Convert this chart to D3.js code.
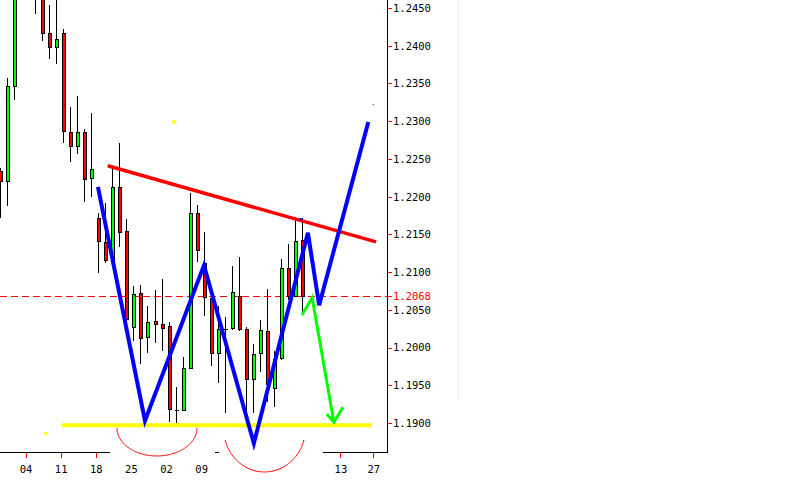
<!DOCTYPE html>
<html><head><meta charset="utf-8">
<script src="https://cdn.jsdelivr.net/npm/d3@7"></script>
<style>
html,body{margin:0;padding:0;background:#fff;}
svg{display:block;}
text{font-family:"DejaVu Sans Mono",monospace;font-size:10.5px;}
</style></head>
<body>
<script>
// ---- data ----
const opens  = [1.2234,1.2221,1.2347,1.2474,1.2510,1.2490,1.2470,1.2417,1.2398,1.2417,1.2286,1.2267,1.2286,1.2225,1.2172,1.2140,1.2113,1.2213,1.2154,1.2027,1.2072,1.2014,1.2035,1.2031,1.2029,1.1917,1.1917,1.1973,1.2178,1.2112,1.2066,1.1993,1.2025,1.2026,1.2068,1.2025,1.1958,1.1993,1.2022,1.1946,1.1986,1.2105,1.2068,1.2143];
const highs  = [1.2238,1.2357,1.2487,1.2525,1.2520,1.2500,1.2478,1.2454,1.2465,1.2422,1.2319,1.2333,1.2290,1.2311,1.2178,1.2192,1.2238,1.2271,1.2170,1.2082,1.2083,1.2055,1.2076,1.2091,1.2034,1.1948,1.1987,1.2205,1.2189,1.2153,1.2076,1.2055,1.2040,1.2108,1.2120,1.2027,1.2005,1.2037,1.2078,1.1995,1.2117,1.2137,1.2173,1.2172];
const lows   = [1.2172,1.2188,1.2328,1.2465,1.2478,1.2442,1.2406,1.2382,1.2376,1.2271,1.2246,1.2257,1.2193,1.2200,1.2099,1.2112,1.2111,1.2133,1.2035,1.2009,1.1978,1.1993,1.2006,1.1995,1.1901,1.1900,1.1916,1.1972,1.2113,1.2042,1.1976,1.1953,1.1913,1.2023,1.2022,1.1904,1.1913,1.1968,1.1928,1.1921,1.1983,1.2063,1.2067,1.2043];
const closes = [1.2221,1.2347,1.2474,1.2510,1.2490,1.2470,1.2417,1.2398,1.2409,1.2287,1.2267,1.2286,1.2223,1.2237,1.2141,1.2116,1.2213,1.2153,1.2038,1.2071,1.2013,1.2034,1.2031,1.2026,1.1919,1.1917,1.1973,1.2178,1.2129,1.2067,1.1993,1.2025,1.2025,1.2074,1.2025,1.1958,1.1991,1.2023,1.1952,1.1985,1.2105,1.2068,1.2141,1.2068];

const priceTicks = [1.2450,1.2400,1.2350,1.2300,1.2250,1.2200,1.2150,1.2100,1.2050,1.2000,1.1950,1.1900];
const currentPrice = 1.2068;
const dateTickPos = [3.5, 8.5, 13.5, 18.5, 23.5, 28.5, 48.33, 53.0];
const dateTickLabels = ["04","11","18","25","02","09","13","27"];

// annotations (index, price)
const zigzagIdx   = [13.8, 20.5, 28.9, 36.0, 43.7, 45.3, 52.3];
const zigzagPrice = [1.2213, 1.1903, 1.2109, 1.1873, 1.2152, 1.2056, 1.2299];
const trendIdx    = [15.2, 53.4];
const trendPrice  = [1.2241, 1.2140];
const supportIdx  = [8.7, 52.8];
const supportPrice = [1.1897, 1.1897];
const arrowIdx    = [42.85, 44.3, 47.4];
const arrowPrice  = [1.2043, 1.2066, 1.1901];
const arrowHeadIdx   = [46.4, 47.4, 48.7];
const arrowHeadPrice = [1.1912, 1.1901, 1.1921];

// ---- layout ----
const W = 796, H = 497;
const axisX = 387, axisY = 452;

const x = d3.scaleLinear().domain([0, 43]).range([1, 303]);
const y = d3.scaleLinear().domain([1.19, 1.245]).range([423, 8]);

const svg = d3.select("body").append("svg").attr("width", W).attr("height", H);

// faint separator line on the right
svg.append("line").attr("x1", 458.5).attr("x2", 458.5).attr("y1", 0).attr("y2", 400)
  .attr("stroke", "#e6eef0").attr("stroke-width", 1);

// current price dashed line
svg.append("line").attr("x1", 0).attr("x2", axisX).attr("y1", Math.round(y(currentPrice)) + 0.5).attr("y2", Math.round(y(currentPrice)) + 0.5)
  .attr("stroke", "#ff0000").attr("stroke-width", 1).attr("stroke-dasharray", "7,4");

// candles
const data = opens.map((o, i) => ({i, o, h: highs[i], l: lows[i], c: closes[i]}));
const cg = svg.append("g").attr("shape-rendering", "crispEdges");
data.forEach(d => {
  const cx = Math.round(x(d.i));
  cg.append("line").attr("x1", cx - 0.5).attr("x2", cx - 0.5)
    .attr("y1", Math.round(y(d.h))).attr("y2", Math.round(y(d.l)))
    .attr("stroke", "#000").attr("stroke-width", 1);
  const top = Math.round(y(Math.max(d.o, d.c)));
  const bot = Math.round(y(Math.min(d.o, d.c)));
  if (d.o === d.c) {
    cg.append("line").attr("x1", cx - 2).attr("x2", cx + 2).attr("y1", top + 0.5).attr("y2", top + 0.5)
      .attr("stroke", "#000").attr("stroke-width", 1);
  } else {
    cg.append("rect").attr("x", cx - 1.5).attr("width", 3)
      .attr("y", top + 0.5).attr("height", Math.max(bot - top, 1))
      .attr("fill", d.c > d.o ? "#00ff00" : "#ff0000")
      .attr("stroke", "#000").attr("stroke-width", 1);
  }
});

// axes lines
const ag = svg.append("g").attr("shape-rendering", "crispEdges");
ag.append("line").attr("x1", 0).attr("x2", axisX + 1).attr("y1", axisY + 0.5).attr("y2", axisY + 0.5).attr("stroke", "#000");
ag.append("line").attr("x1", axisX + 0.5).attr("x2", axisX + 0.5).attr("y1", 0).attr("y2", axisY + 1).attr("stroke", "#000");

// right price axis
const yAxis = d3.axisRight(y).tickValues(priceTicks).tickFormat(d3.format(".4f")).tickSize(4).tickPadding(1.5);
const yg = svg.append("g").attr("transform", `translate(${axisX + 0.5},0)`).call(yAxis);
yg.select(".domain").remove();
yg.selectAll(".tick line").attr("stroke", "#ff0000").attr("shape-rendering", "crispEdges");
yg.selectAll(".tick text").attr("fill", "#000").style("font-family", "DejaVu Sans Mono").style("font-size", "10.5px");
yg.attr("font-family", null).attr("font-size", null);

// current price label
const cpY = Math.round(y(currentPrice)) + 0.5;
svg.append("line").attr("x1", axisX + 0.5).attr("x2", axisX + 4.5).attr("y1", cpY).attr("y2", cpY)
  .attr("stroke", "#ff0000").attr("shape-rendering", "crispEdges");
svg.append("text").attr("x", axisX + 6).attr("y", cpY).attr("dy", "0.32em").attr("fill", "#ff0000")
  .text(d3.format(".4f")(currentPrice));

// bottom date axis
const xAxis = d3.axisBottom(x).tickValues(dateTickPos).tickFormat((d, k) => dateTickLabels[k]).tickSize(5).tickPadding(8);
const xg = svg.append("g").attr("transform", `translate(0,${axisY + 0.5})`).call(xAxis);
xg.select(".domain").remove();
xg.selectAll(".tick line").attr("stroke", "#ff0000").attr("shape-rendering", "crispEdges");
xg.selectAll(".tick text").attr("fill", "#000").style("font-family", "DejaVu Sans Mono").style("font-size", "10.5px");
xg.attr("font-family", null).attr("font-size", null);

// white cover over part of the bottom axis (as in the reference)
svg.append("rect").attr("x", 110).attr("y", 446).attr("width", 213).attr("height", 14).attr("fill", "#fff");
svg.append("line").attr("x1", 215).attr("x2", 219).attr("y1", axisY + 0.5).attr("y2", axisY + 0.5)
  .attr("stroke", "#000").attr("shape-rendering", "crispEdges");

// red arcs (lower half-ellipses)
function halfEllipse(ci, cp, rx, ry, startDy) {
  const cxp = x(ci), cyp = y(cp);
  const t0 = Math.asin(Math.min(1, startDy / ry));
  const pts = d3.range(0, 101).map(k => {
    const t = t0 + (Math.PI - 2 * t0) * k / 100;
    return [cxp + rx * Math.cos(t), cyp + ry * Math.sin(t)];
  });
  return d3.line()(pts);
}
svg.append("path").attr("d", halfEllipse(22.21, 1.18934, 40, 28, 0))
  .attr("fill", "none").attr("stroke", "#ff0000").attr("stroke-width", 1);
svg.append("path").attr("d", halfEllipse(37.52, 1.18934, 41, 44, 12))
  .attr("fill", "none").attr("stroke", "#ff0000").attr("stroke-width", 1);

const line = d3.line().x(d => x(d[0])).y(d => y(d[1]));

// support line (yellow)
svg.append("path").attr("d", line(supportIdx.map((v, k) => [v, supportPrice[k]])))
  .attr("stroke", "#ffff00").attr("stroke-width", 4).attr("fill", "none");

// trend line (red)
svg.append("path").attr("d", line(trendIdx.map((v, k) => [v, trendPrice[k]])))
  .attr("stroke", "#ff0000").attr("stroke-width", 3.5).attr("fill", "none");

// zigzag (blue)
svg.append("path").attr("d", line(zigzagIdx.map((v, k) => [v, zigzagPrice[k]])))
  .attr("stroke", "#0000ff").attr("stroke-width", 4).attr("fill", "none").attr("stroke-linejoin", "miter");

// green arrow
svg.append("path").attr("d", line(arrowIdx.map((v, k) => [v, arrowPrice[k]])))
  .attr("stroke", "#00ff00").attr("stroke-width", 3).attr("fill", "none");
svg.append("path").attr("d", line(arrowHeadIdx.map((v, k) => [v, arrowHeadPrice[k]])))
  .attr("stroke", "#00ff00").attr("stroke-width", 3).attr("fill", "none");

// small stray marks
const dots = [
  {i: 24.65, p: 1.2299, c: "#ffff00", w: 3, h: 4},
  {i: 6.4, p: 1.1886, c: "#ffff00", w: 3, h: 3},
  {i: 42.7, p: 1.2170, c: "#0000ff", w: 3, h: 2},
  {i: 44.1, p: 1.2164, c: "#0000ff", w: 1, h: 1},
  {i: 53.0, p: 1.2322, c: "#0000ff", w: 1, h: 1}
];
dots.forEach(d => {
  svg.append("rect").attr("x", x(d.i) - d.w / 2).attr("y", y(d.p) - d.h / 2)
    .attr("width", d.w).attr("height", d.h).attr("fill", d.c);
});
</script>
</body></html>
